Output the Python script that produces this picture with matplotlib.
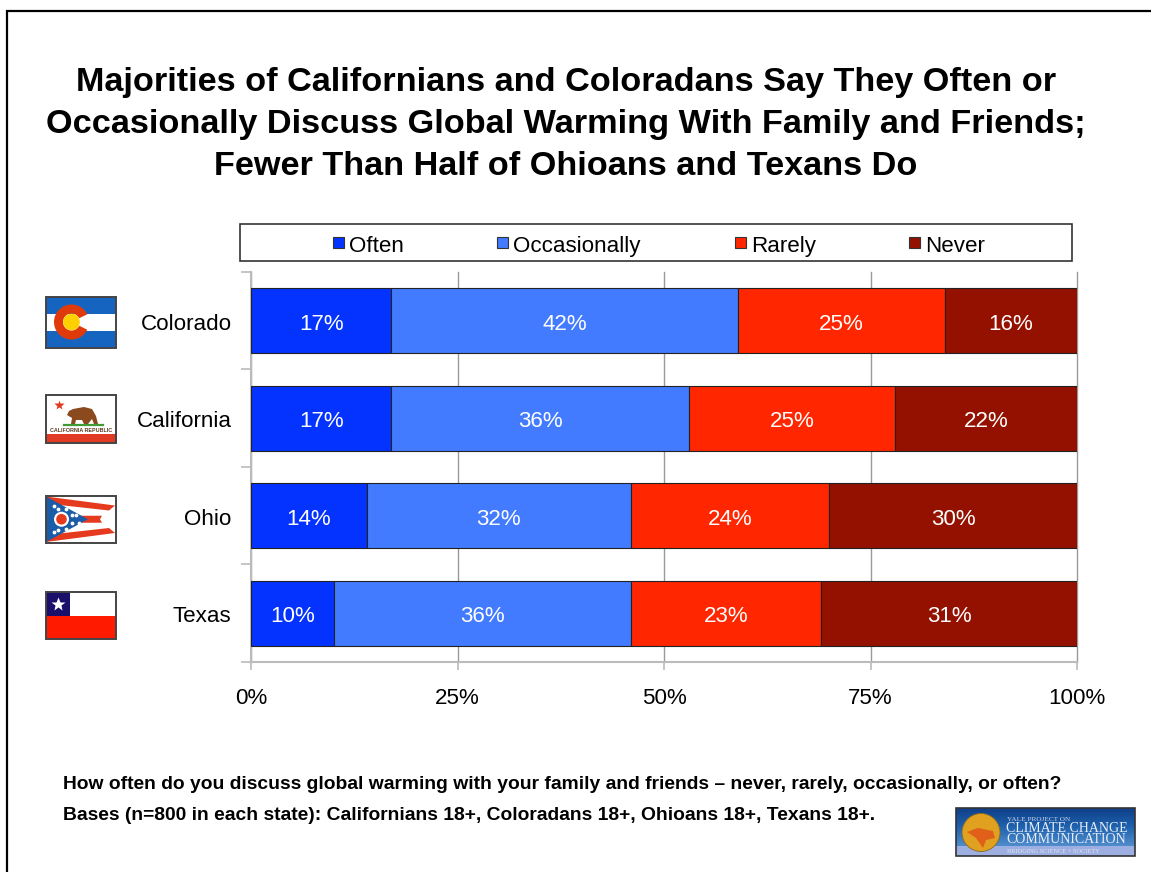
import numpy as np
import matplotlib
matplotlib.use("Agg")
import matplotlib.pyplot as plt
from matplotlib.patches import Rectangle, Circle, Polygon, Wedge
from matplotlib.colors import LinearSegmentedColormap

plt.rcParams['font.family'] = ['Liberation Sans', 'DejaVu Sans']

title_lines = ["Majorities of Californians and Coloradans Say They Often or",
               "Occasionally Discuss Global Warming With Family and Friends;",
               "Fewer Than Half of Ohioans and Texans Do"]
states = ["Colorado", "California", "Ohio", "Texas"]
responses = ["Often", "Occasionally", "Rarely", "Never"]
often = [17, 17, 14, 10]
occasionally = [42, 36, 32, 36]
rarely = [25, 25, 24, 23]
never = [16, 22, 30, 31]
colors = ["#0433FF", "#427BFF", "#FF2600", "#941100"]
xticks = [0, 25, 50, 75, 100]
question = "How often do you discuss global warming with your family and friends \u2013 never, rarely, occasionally, or often?"
bases = "Bases (n=800 in each state): Californians 18+, Coloradans 18+, Ohioans 18+, Texans 18+."

W, H = 1151, 872
LABEL_SIZE = 16.1
fig = plt.figure(figsize=(W / 100, H / 100), dpi=100, facecolor="white")

# Full-figure layer in pixel coordinates for frame, flags, legend and logo
bg = fig.add_axes([0, 0, 1, 1], zorder=0)
bg.set_xlim(0, W)
bg.set_ylim(H, 0)
bg.axis("off")

# Slide frame: open on the right and bottom
bg.plot([7.5, 7.5, W], [H, 11.5, 11.5], color="black", lw=1.6, solid_joinstyle="miter")

for baseline, line in zip([91, 133, 175], title_lines):
    bg.text(566, baseline, line, ha="center", va="baseline", fontsize=24.7,
            fontweight="bold", color="black")

# Stacked bars
ax = fig.add_axes([251 / W, 1 - 662 / H, (1077 - 251) / W, (662 - 272) / H], zorder=2)
ax.set_xlim(0, 100)
ax.set_ylim(3.5, -0.5)
ax.patch.set_alpha(0)
ypos = np.arange(len(states))
left = np.zeros(len(states))
for name, vals, col in zip(responses, [often, occasionally, rarely, never], colors):
    bars = ax.barh(ypos, vals, left=left, height=0.667, color=col,
                   edgecolor="#222222", linewidth=0.8, zorder=3, label=name)
    for b, v in zip(bars, vals):
        ax.annotate(f"{v}%", xy=(b.get_x() + b.get_width() / 2, b.get_y() + b.get_height() / 2),
                    xytext=(0, -3.5), textcoords="offset pixels",
                    ha="center", va="center", color="white", fontsize=LABEL_SIZE, zorder=4)
    left += np.array(vals)

ax.set_xticks(xticks)
ax.set_xticklabels([f"{t}%" for t in xticks], fontsize=LABEL_SIZE)
ax.set_yticks(np.arange(-0.5, 4.0, 1), minor=False)
ax.set_yticklabels([])
ax.tick_params(axis="x", length=6, width=1.2, color="#BBBBBB", pad=13, labelcolor="black")
ax.tick_params(axis="y", length=7, width=1.2, color="#BBBBBB")
ax.xaxis.grid(True, color="#999999", lw=1, zorder=1, clip_on=False)
ax.set_axisbelow(True)
for s in ["top", "right"]:
    ax.spines[s].set_visible(False)
for s in ["left", "bottom"]:
    ax.spines[s].set_color("#BBBBBB")
    ax.spines[s].set_linewidth(1.5)
for y, s in zip(ypos, states):
    ax.annotate(s, xy=(0, y), xycoords=("axes fraction", "data"), xytext=(-19.5, -3.5),
                textcoords="offset pixels", ha="right", va="center", fontsize=LABEL_SIZE)

# Legend box
bg.add_patch(Rectangle((240, 224), 832, 37, fc="white", ec="#333333", lw=1.2))
leg_swatch = [333, 497, 735, 909]
for x, name, col in zip(leg_swatch, responses, colors):
    bg.add_patch(Rectangle((x, 237), 11, 11, fc=col, ec="#333333", lw=0.8))
    bg.text(x + 16.5, 246, name, ha="left", va="center", fontsize=LABEL_SIZE)


def flag_frame(x, y, w, h):
    bg.add_patch(Rectangle((x, y), w, h, fc="none", ec="#444444", lw=1.4, zorder=6))


# Colorado
x, y, w, h = 46, 297, 70, 51
bg.add_patch(Rectangle((x, y), w, h, fc="#1565C0"))
bg.add_patch(Rectangle((x, y + 17), w, 17, fc="white"))
bg.add_patch(Wedge((71.5, 322), 17.5, 26, 334, width=9, fc="#E03A0A", zorder=3))
bg.add_patch(Circle((71.5, 322), 8.3, fc="#FFD000", zorder=3))
flag_frame(x, y, w, h)

# California
x, y, w, h = 46, 395, 70, 48
bg.add_patch(Rectangle((x, y), w, h, fc="white"))
bg.add_patch(Rectangle((x, y + 39), w, 9, fc="#E03A24"))
bg.plot([59.5], [404.5], marker="*", ms=7, color="#E03A24", mec="none")
bear_outline = [[67, 415], [69, 411], [73, 409], [84, 407], [92, 409], [96, 416], [98, 424],
                [94, 424], [92, 419], [88, 424], [84, 424], [82, 420], [76, 420], [75, 424], [71, 424], [72, 418]]
bg.add_patch(Polygon(bear_outline, closed=True, fc="#8A4A1E", ec="none", zorder=3))
bg.plot([64, 103], [425, 425], color="#3F9A35", lw=1.6, zorder=2)
bg.text(81.5, 430.5, "CALIFORNIA REPUBLIC", ha="center", va="center", fontsize=3.9,
        fontweight="bold", color="#5A3A1E")
flag_frame(x, y, w, h)

# Ohio
x, y, w, h = 46, 495.5, 70, 47.5
bg.add_patch(Rectangle((x, y), w, h, fc="white"))
cy = y + h / 2
bg.add_patch(Polygon([[x, y + 1], [x + 69, y + 10], [x + 63, y + 15], [x, y + 8]], fc="#E53A1E"))
bg.add_patch(Polygon([[x, y + h - 1], [x + 69, y + h - 10], [x + 63, y + h - 15], [x, y + h - 8]], fc="#E53A1E"))
bg.add_patch(Polygon([[x + 30, cy - 3.5], [x + 56, cy - 3.5], [x + 54, cy], [x + 56, cy + 3.5], [x + 30, cy + 3.5]], fc="#E53A1E"))
bg.add_patch(Polygon([[x, y + 1], [x + 42, cy], [x, y + h - 1]], fc="#1A5CA8", zorder=3))
bg.add_patch(Circle((x + 15.5, cy), 7.5, fc="white", zorder=4))
bg.add_patch(Circle((x + 15.5, cy), 5.3, fc="#E53A1E", zorder=5))
star_angles = np.deg2rad(np.arange(-110, 111, 44))
bg.scatter(x + 15.5 + 11 * np.cos(star_angles), cy + 11 * np.sin(star_angles), s=3, c="white", zorder=4)
bg.scatter([x + 8, x + 8, x + 30, x + 33], [cy - 13, cy + 13, cy - 4, cy + 4], s=3, c="white", zorder=4)
flag_frame(x, y, w, h)

# Texas
x, y, w, h = 46, 592, 70, 47
bg.add_patch(Rectangle((x, y), w, h, fc="white"))
bg.add_patch(Rectangle((x, y + 23.5), w, 23.5, fc="#FF1A00"))
bg.add_patch(Rectangle((x, y), 24, 23.5, fc="#1A0F6B"))
bg.plot([58], [604], marker="*", ms=10, color="white", mec="none", zorder=3)
flag_frame(x, y, w, h)

# Footnotes
bg.text(63, 784, question, ha="left", va="center", fontsize=13.87, fontweight="bold")
bg.text(63, 815.5, bases, ha="left", va="center", fontsize=13.87, fontweight="bold")

# Logo: sky gradient, globe and wordmark
sky = LinearSegmentedColormap.from_list("sky", ["#0F3F88", "#1F62AE", "#4F8CCB"])
grad = np.linspace(0, 1, 64).reshape(-1, 1)
bg.imshow(grad, extent=(956, 1135, 846, 808), cmap=sky, aspect="auto", zorder=1)
bg.add_patch(Rectangle((956, 846), 179, 10, fc="#9DAFE0", ec="none", zorder=2))
bg.add_patch(Circle((981, 832.5), 19, fc="#E0A020", ec="#8A6A20", lw=0.6, zorder=3))
bg.add_patch(Polygon([[967, 832], [978, 828], [993, 831], [995, 838], [986, 840], [983, 848], [976, 838]],
                     fc="#E0601A", ec="none", zorder=4))
bg.text(1007, 819.5, "YALE PROJECT ON", fontsize=5.2, color="#C8D4EA", family="Liberation Serif",
        ha="left", va="center", zorder=5)
bg.text(1006, 834, "CLIMATE CHANGE\nCOMMUNICATION", fontsize=10, color="#E8EEF8",
        family="Liberation Serif", ha="left", va="center", linespacing=0.8, zorder=5)
bg.text(1007, 851, "BRIDGING SCIENCE + SOCIETY", fontsize=4.6, color="#DDE4F5", family="Liberation Serif",
        ha="left", va="center", zorder=5)
bg.add_patch(Rectangle((956, 808), 179, 48, fc="none", ec="#333333", lw=1.2, zorder=6))
bg.set_xlim(0, W)
bg.set_ylim(H, 0)

fig.savefig("out.png", dpi=100)
